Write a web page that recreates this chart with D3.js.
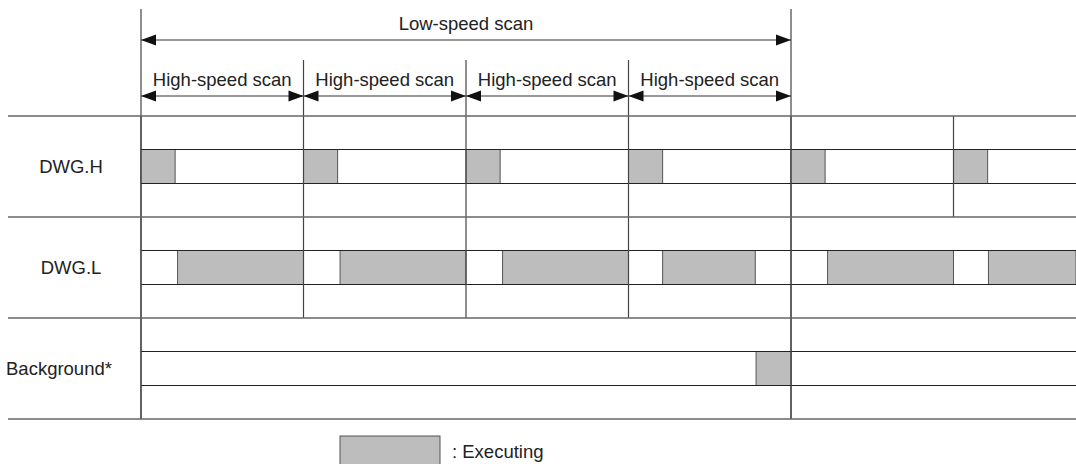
<!DOCTYPE html>
<html>
<head>
<meta charset="utf-8">
<title>Scan timing</title>
<script src="https://cdn.jsdelivr.net/npm/d3@7"></script>
<style>
  body { margin:0; background:#fff; font-family:"Liberation Sans", Arial, sans-serif; }
  text { fill:#222; font-size:18.5px; }
</style>
</head>
<body>
<svg id="chart" width="1076" height="464"></svg>
<script>
// time in units of one high-speed scan
var lowScan = [0, 4]
var lowScanLabel = "Low-speed scan"
var highScans = [[0, 1], [1, 2], [2, 3], [3, 4]]
var highScanLabel = "High-speed scan"

var rows = ["DWG.H", "DWG.L", "Background*"]

// executing periods per row [start, end]
var dwgH = [[0, 0.21], [1, 1.21], [2, 2.21], [3, 3.21], [4, 4.21], [5, 5.21]]
var dwgL = [[0.225, 1], [1.225, 2], [2.225, 3], [3.21, 3.78], [4.225, 5], [5.215, 5.76]]
var background = [[3.785, 4]]
var executing = [dwgH, dwgL, background]

// scan boundaries drawn inside each row
var rowDividers = [[0, 1, 2, 3, 4, 5], [0, 1, 2, 3, 4], [0, 4]]

var legendLabel = ": Executing"

var W = 1076, H = 464
var svg = d3.select("#chart")

var x = d3.scaleLinear().domain([0, 4]).range([141, 791])
var tEnd = x.invert(W)

// row bands
var y = d3.scaleBand().domain(rows).range([116, 419]).padding(0)
var bandH = 34

var fillGray = "#bdbdbd"

function arrowHead(g, px, py, dir) {
  // dir 1 = pointing right, -1 = pointing left
  var L = 15, h = 5.5
  g.append("path")
    .attr("d", "M" + px + "," + py + "L" + (px - dir * L) + "," + (py - h) + "L" + (px - dir * L) + "," + (py + h) + "Z")
    .attr("fill", "#111")
}

function dimArrow(t0, t1, yy) {
  var g = svg.append("g")
  g.append("line").attr("x1", x(t0)).attr("x2", x(t1)).attr("y1", yy).attr("y2", yy)
    .attr("stroke", "#333").attr("stroke-width", 1)
  arrowHead(g, x(t0), yy, -1)
  arrowHead(g, x(t1), yy, 1)
}

// --- scan arrows and labels
dimArrow(lowScan[0], lowScan[1], 40)
svg.append("text").attr("x", (x(lowScan[0]) + x(lowScan[1])) / 2).attr("y", 30)
  .attr("text-anchor", "middle").text(lowScanLabel)

highScans.forEach(function(s) {
  dimArrow(s[0], s[1], 96)
  svg.append("text").attr("x", (x(s[0]) + x(s[1])) / 2).attr("y", 85.5)
    .attr("text-anchor", "middle").text(highScanLabel)
})

// --- vertical lines: outer ones span the whole chart, inner ones from high-speed labels
svg.append("g").selectAll("line").data(lowScan).join("line")
  .attr("x1", function(d) { return x(d) }).attr("x2", function(d) { return x(d) })
  .attr("y1", 9).attr("y2", y.range()[1])
  .attr("stroke", "#444").attr("stroke-width", 1.2)

svg.append("g").selectAll("line").data(highScans.slice(1)).join("line")
  .attr("x1", function(d) { return x(d[0]) }).attr("x2", function(d) { return x(d[0]) })
  .attr("y1", 60).attr("y2", y.range()[0])
  .attr("stroke", "#444").attr("stroke-width", 1.2)

// --- rows
rows.forEach(function(r, i) {
  var top = y(r), mid = top + y.bandwidth() / 2
  var b0 = mid - bandH / 2, b1 = mid + bandH / 2
  var g = svg.append("g")

  // executing blocks
  g.selectAll("rect").data(executing[i]).join("rect")
    .attr("x", function(d) { return x(d[0]) })
    .attr("width", function(d) { return x(Math.min(d[1], tEnd)) - x(d[0]) })
    .attr("y", b0).attr("height", bandH)
    .attr("fill", fillGray).attr("stroke", "#555").attr("stroke-width", 1)

  // band edges
  g.selectAll("line.band").data([b0, b1]).join("line").attr("class", "band")
    .attr("x1", x(0)).attr("x2", W).attr("y1", function(d) { return d }).attr("y2", function(d) { return d })
    .attr("stroke", "#222").attr("stroke-width", 1)

  // scan boundaries in this row
  g.selectAll("line.div").data(rowDividers[i]).join("line").attr("class", "div")
    .attr("x1", function(d) { return x(d) }).attr("x2", function(d) { return x(d) })
    .attr("y1", top).attr("y2", top + y.bandwidth())
    .attr("stroke", "#444").attr("stroke-width", 1.2)

  // label: centred in the margin, long ones start at the left edge
  var lab = g.append("text").attr("y", mid + 6.5).text(r)
  var w = lab.node().getComputedTextLength()
  if (w > 90) lab.attr("x", 6)
  else lab.attr("x", 71).attr("text-anchor", "middle")
})

// row separators
svg.append("g").selectAll("line").data(rows.map(function(r) { return y(r) }).concat([y.range()[1]])).join("line")
  .attr("x1", 8).attr("x2", W).attr("y1", function(d) { return d }).attr("y2", function(d) { return d })
  .attr("stroke", "#666").attr("stroke-width", 1.6)

// --- legend
svg.append("rect").attr("x", 340).attr("y", 436).attr("width", 100).attr("height", bandH)
  .attr("fill", fillGray).attr("stroke", "#555").attr("stroke-width", 1)
svg.append("text").attr("x", 452).attr("y", 458).text(legendLabel)
</script>
</body>
</html>
